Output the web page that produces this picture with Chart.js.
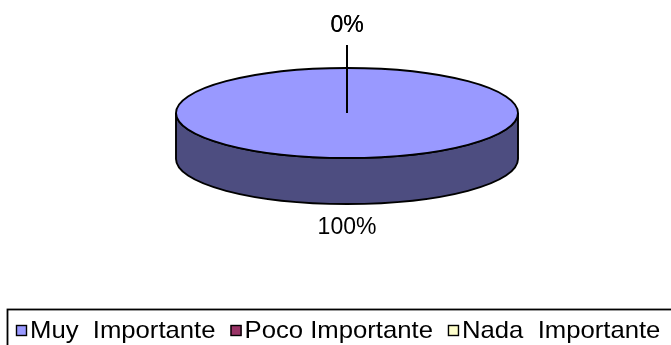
<!DOCTYPE html>
<html>
<head>
<meta charset="utf-8">
<script src="https://cdn.jsdelivr.net/npm/chart.js@4/dist/chart.umd.min.js"></script>
<style>
  html, body { margin: 0; padding: 0; background: #ffffff; }
  #wrap { width: 671px; height: 345px; }
</style>
</head>
<body>
<div id="wrap"><canvas id="c" width="671" height="345"></canvas></div>
<script>
// Survey answers and their shares
const categories = ['Muy  Importante', 'Poco Importante', 'Nada  Importante'];
const values = [100, 0, 0];
const topColors = ['#9999FF', '#993366', '#FFFFCC'];
const sideColors = ['#4D4D80', '#4D1A33', '#808066'];

const FONT = "'Liberation Sans', Arial, sans-serif";

// Ellipse the flat pie is mapped onto, plus the wall height
const disc = { cx: 347, cy: 113, rx: 171, ry: 45, depth: 46 };

function pctText(i) {
  const total = values.reduce((a, b) => a + b, 0);
  return Math.round(values[i] / total * 100) + '%';
}

const pie3d = {
  id: 'pie3d',
  beforeDatasetsDraw(chart) {
    const ctx = chart.ctx;
    const meta = chart.getDatasetMeta(0);
    const { cx, cy, rx, ry, depth } = disc;
    // front walls (only the part facing the viewer)
    meta.data.forEach((el, i) => {
      const s = Math.max(el.startAngle, 0);
      const e = Math.min(el.endAngle, Math.PI);
      if (e <= s) return;
      ctx.save();
      ctx.beginPath();
      ctx.ellipse(cx, cy, rx, ry, 0, s, e);
      ctx.ellipse(cx, cy + depth, rx, ry, 0, e, s, true);
      ctx.closePath();
      ctx.fillStyle = sideColors[i];
      ctx.fill();
      ctx.lineWidth = 1.9;
      ctx.strokeStyle = '#000';
      ctx.stroke();
      ctx.restore();
    });
    // squash the library's circular slices into the top ellipse
    const el = meta.data[0];
    ctx.save();
    ctx.translate(cx, cy);
    ctx.scale(rx / el.outerRadius, ry / el.outerRadius);
    ctx.translate(-el.x, -el.y);
  },
  afterDatasetsDraw(chart) {
    const ctx = chart.ctx;
    ctx.restore();
    const meta = chart.getDatasetMeta(0);
    const { cx, cy, rx, ry, depth } = disc;
    ctx.save();
    ctx.lineWidth = 1.9;
    ctx.strokeStyle = '#000';
    ctx.beginPath();
    ctx.ellipse(cx, cy, rx, ry, 0, 0, Math.PI * 2);
    ctx.stroke();
    // slice borders on the top face
    meta.data.forEach((el) => {
      const span = el.endAngle - el.startAngle;
      if (span <= 0 || span >= Math.PI * 2 - 1e-6) return;
      ctx.beginPath();
      ctx.moveTo(cx, cy);
      ctx.lineTo(cx + rx * Math.cos(el.startAngle), cy + ry * Math.sin(el.startAngle));
      ctx.stroke();
    });
    // percentage labels
    ctx.font = '23px ' + FONT;
    ctx.fillStyle = '#000';
    ctx.textAlign = 'center';
    ctx.textBaseline = 'middle';
    meta.data.forEach((el, i) => {
      const mid = (el.startAngle + el.endAngle) / 2;
      const px = cx + rx * Math.cos(mid);
      const py = cy + ry * Math.sin(mid) + (Math.sin(mid) > 0 ? depth : 0);
      if (values[i] === 0) {
        // empty slice: label lifted out with a leader line from the centre
        const ly = py - 42;
        ctx.lineWidth = 2;
        ctx.beginPath();
        ctx.moveTo(cx, cy);
        ctx.lineTo(px, ly + 19);
        ctx.stroke();
        ctx.fillText(pctText(i), px, ly);
      } else {
        const off = Math.sin(mid) >= 0 ? 24 : -24;
        ctx.fillText(pctText(i), px, py + off);
      }
    });
    ctx.restore();
  },
  afterDraw(chart) {
    // legend box along the bottom
    const ctx = chart.ctx;
    ctx.save();
    ctx.lineWidth = 1.8;
    ctx.strokeStyle = '#000';
    ctx.strokeRect(7.5, 309.5, 720, 80);
    ctx.font = '24px ' + FONT;
    ctx.textBaseline = 'middle';
    ctx.textAlign = 'left';
    const stretch = 1.07;
    let x = 16;
    const y = 331;
    categories.forEach((name, i) => {
      ctx.fillStyle = topColors[i];
      ctx.fillRect(x, y - 6, 11, 11);
      ctx.lineWidth = 1.4;
      ctx.strokeRect(x + 0.5, y - 6 + 0.5, 10, 10);
      ctx.fillStyle = '#000';
      const tx = x + 14;
      ctx.save();
      ctx.translate(tx, y);
      ctx.scale(stretch, 1);
      ctx.fillText(name, 0, 0);
      ctx.restore();
      x = tx + ctx.measureText(name).width * stretch + 15;
    });
    ctx.restore();
  }
};

new Chart(document.getElementById('c'), {
  type: 'pie',
  data: {
    labels: categories,
    datasets: [{
      data: values,
      backgroundColor: topColors,
      borderWidth: 0
    }]
  },
  options: {
    responsive: false,
    devicePixelRatio: 1,
    animation: false,
    events: [],
    plugins: { legend: { display: false }, tooltip: { enabled: false } }
  },
  plugins: [pie3d]
});
</script>
</body>
</html>
